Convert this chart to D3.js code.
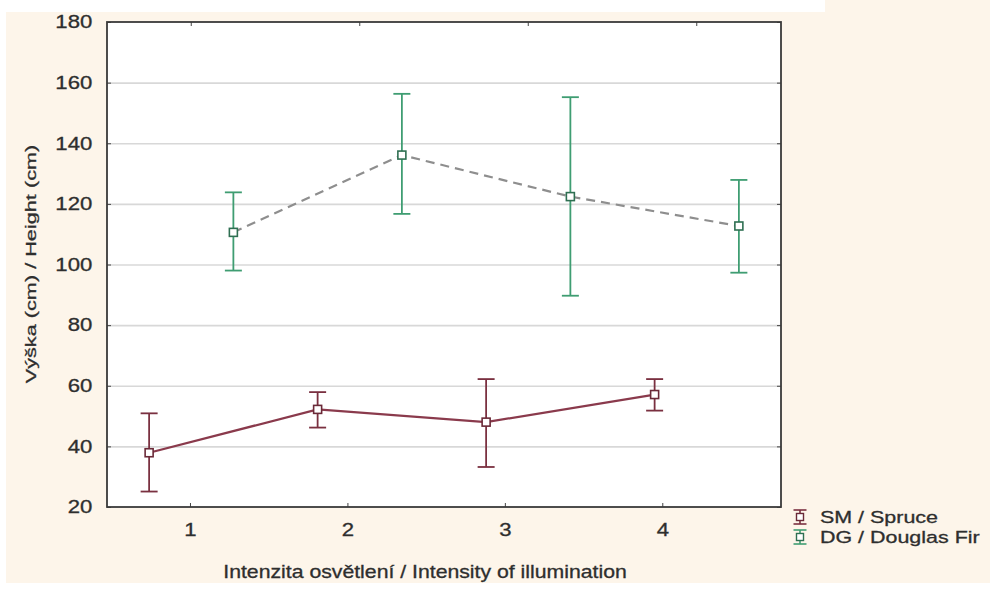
<!DOCTYPE html>
<html>
<head>
<meta charset="utf-8">
<script src="https://d3js.org/d3.v7.min.js"></script>
<style>
body { margin: 0; background: #ffffff; }
svg text { font-family: "Liberation Sans", Arial, sans-serif; fill: #2e2e2e; stroke: #2e2e2e; stroke-width: 0.3; }
</style>
</head>
<body>
<div id="canvas-container"></div>
<script>
// categories on the x axis and their printed tick labels
var categories = ["1", "2", "3", "4"];
var xTickLabels = [1, 2, 3, 4];
var yTicks = [20, 40, 60, 80, 100, 120, 140, 160, 180];

// SM / Spruce: mean and error bar ends (cm)
var spruceMean = [37.9, 52.2, 48.0, 57.1];
var spruceLow = [25.1, 46.2, 33.2, 51.8];
var spruceHigh = [50.9, 57.9, 62.2, 62.2];

// DG / Douglas Fir
var firMean = [110.6, 136.1, 122.4, 112.7];
var firLow = [98.0, 116.7, 89.7, 97.3];
var firHigh = [123.8, 156.3, 155.2, 127.9];

var w = 990, h = 590;
var padL = 107, padR = 781, padT = 22, padB = 507;

var svg = d3.select("#canvas-container").append("svg")
    .attr("width", w)
    .attr("height", h);

// cream page with the white strips the scan shows
svg.append("rect").attr("x", 6).attr("y", 12).attr("width", w - 6).attr("height", 571).attr("fill", "#fdf5ea");
svg.append("rect").attr("x", 825).attr("y", 0).attr("width", w - 825).attr("height", 12).attr("fill", "#fdf5ea");
svg.append("rect").attr("x", padL).attr("y", padT).attr("width", padR - padL).attr("height", padB - padT).attr("fill", "#ffffff");

var y = d3.scaleLinear().domain([20, 180]).range([padB, padT]);
var xBand = d3.scaleBand().domain(categories).range([padL, padR]).padding(0);
var xTick = d3.scaleLinear().domain([0.473, 4.754]).range([padL, padR]);
var off = xBand.bandwidth() / 4;

function cx(i, dir) {
    return xBand(categories[i]) + xBand.bandwidth() / 2 + dir * off;
}

// grid
var grid = svg.append("g")
    .attr("transform", "translate(" + padL + ",0)")
    .call(d3.axisLeft(y).tickValues(yTicks.slice(1, -1)).tickSize(-(padR - padL)).tickFormat(""));
grid.select(".domain").remove();
grid.selectAll("line").attr("stroke", "#d8d8d8").attr("stroke-width", 1.6);

// left axis with labels
var yAxis = svg.append("g")
    .attr("transform", "translate(" + padL + ",0)")
    .call(d3.axisLeft(y).tickValues(yTicks).tickSize(-4).tickPadding(12));
yAxis.select(".domain").remove();
yAxis.selectAll("line").attr("stroke", "#444");
yAxis.selectAll("text")
    .attr("font-size", 18)
    .attr("transform", "scale(1.23,1)");

// right axis ticks
var yRight = svg.append("g")
    .attr("transform", "translate(" + padR + ",0)")
    .call(d3.axisRight(y).tickValues(yTicks).tickSize(-4).tickFormat(""));
yRight.select(".domain").remove();
yRight.selectAll("line").attr("stroke", "#444");

// bottom axis
var xAxis = svg.append("g")
    .attr("transform", "translate(0," + padB + ")")
    .call(d3.axisBottom(xTick).tickValues(xTickLabels).tickSize(-4).tickPadding(16).tickFormat(d3.format("d")));
xAxis.select(".domain").remove();
xAxis.selectAll("line").attr("stroke", "#444");
xAxis.selectAll("text")
    .attr("font-size", 18)
    .attr("transform", "scale(1.23,1)");

// top axis ticks
var xTop = svg.append("g")
    .attr("transform", "translate(0," + padT + ")")
    .call(d3.axisTop(xBand).tickSize(-4).tickFormat(""));
xTop.select(".domain").remove();
xTop.selectAll("line").attr("stroke", "#444");

// frame
svg.append("rect")
    .attr("x", padL).attr("y", padT)
    .attr("width", padR - padL).attr("height", padB - padT)
    .attr("fill", "none")
    .attr("stroke", "#3a3a3a")
    .attr("stroke-width", 1.8);

function drawSeries(mean, low, high, dir, lineColor, dash, barColor, markColor) {
    var pts = mean.map(function (m, i) { return [cx(i, dir), y(m)]; });
    svg.append("path")
        .attr("d", d3.line()(pts))
        .attr("fill", "none")
        .attr("stroke", lineColor)
        .attr("stroke-width", 2.2)
        .attr("stroke-dasharray", dash);

    var cap = 8.5;
    for (var i = 0; i < mean.length; i++) {
        var x = cx(i, dir);
        svg.append("line")
            .attr("x1", x).attr("x2", x)
            .attr("y1", y(low[i])).attr("y2", y(high[i]))
            .attr("stroke", barColor).attr("stroke-width", 1.8);
        svg.append("line")
            .attr("x1", x - cap).attr("x2", x + cap)
            .attr("y1", y(low[i])).attr("y2", y(low[i]))
            .attr("stroke", barColor).attr("stroke-width", 1.8);
        svg.append("line")
            .attr("x1", x - cap).attr("x2", x + cap)
            .attr("y1", y(high[i])).attr("y2", y(high[i]))
            .attr("stroke", barColor).attr("stroke-width", 1.8);
    }
    for (var j = 0; j < mean.length; j++) {
        svg.append("rect")
            .attr("x", pts[j][0] - 4).attr("y", pts[j][1] - 4)
            .attr("width", 8).attr("height", 8)
            .attr("fill", "#ffffff")
            .attr("stroke", markColor)
            .attr("stroke-width", 1.6);
    }
}

drawSeries(spruceMean, spruceLow, spruceHigh, -1, "#8a3a4c", null, "#7a3040", "#6a2a38");
drawSeries(firMean, firLow, firHigh, 1, "#8e8e8e", "9,6", "#3f9d72", "#2f6f52");

// axis titles
svg.append("g")
    .attr("transform", "translate(425,578) scale(1.18,1)")
    .append("text")
    .attr("text-anchor", "middle")
    .attr("font-size", 18)
    .text("Intenzita osvětlení / Intensity of illumination");

svg.append("g")
    .attr("transform", "translate(36,264) rotate(-90) scale(1.4,1)")
    .append("text")
    .attr("text-anchor", "middle")
    .attr("font-size", 15.5)
    .text("Výška (cm) / Height (cm)");

// legend
var legend = [
    { name: "SM / Spruce", bar: "#7a3040", mark: "#6a2a38" },
    { name: "DG / Douglas Fir", bar: "#3f9d72", mark: "#2f6f52" }
];
legend.forEach(function (d, i) {
    var ly = 517 + i * 20;
    var lx = 800;
    var g = svg.append("g");
    g.append("line").attr("x1", lx).attr("x2", lx).attr("y1", ly - 7).attr("y2", ly + 7)
        .attr("stroke", d.bar).attr("stroke-width", 1.6);
    g.append("line").attr("x1", lx - 6.5).attr("x2", lx + 6.5).attr("y1", ly - 7).attr("y2", ly - 7)
        .attr("stroke", d.bar).attr("stroke-width", 1.6);
    g.append("line").attr("x1", lx - 6.5).attr("x2", lx + 6.5).attr("y1", ly + 7).attr("y2", ly + 7)
        .attr("stroke", d.bar).attr("stroke-width", 1.6);
    g.append("rect").attr("x", lx - 3.5).attr("y", ly - 3.5).attr("width", 7).attr("height", 7)
        .attr("fill", "#fff").attr("stroke", d.mark).attr("stroke-width", 1.4);
    svg.append("g")
        .attr("transform", "translate(820," + ly + ") scale(1.3,1)")
        .append("text")
        .attr("dy", "0.36em")
        .attr("font-size", 16.5)
        .text(d.name);
});
</script>
</body>
</html>
